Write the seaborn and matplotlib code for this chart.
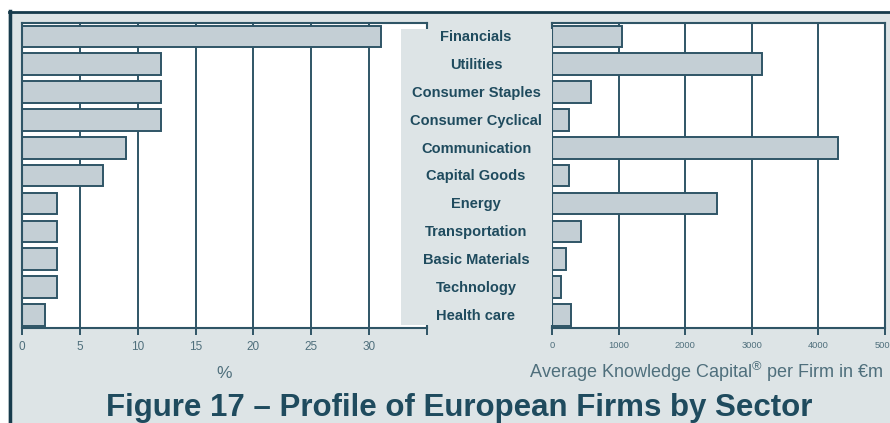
import matplotlib
matplotlib.use('Agg')
import matplotlib.pyplot as plt
import seaborn as sns
import pandas as pd
from matplotlib.patches import Rectangle
from matplotlib.lines import Line2D
from matplotlib.transforms import blended_transform_factory

# data
sectors = ['Financials', 'Utilities', 'Consumer Staples', 'Consumer Cyclical',
           'Communication', 'Capital Goods', 'Energy', 'Transportation',
           'Basic Materials', 'Technology', 'Health care']
share_pct = [31, 12, 12, 12, 9, 7, 3, 3, 3, 3, 2]
kc_per_firm = [1050, 3150, 580, 255, 4300, 255, 2480, 430, 205, 140, 290]

left_ticks = [0, 5, 10, 15, 20, 25, 30, 35]
left_ticklabels = ['0', '5', '10', '15', '20', '25', '30', '']
right_ticks = [0, 1000, 2000, 3000, 4000, 5000]

df = pd.DataFrame({'sector': sectors, 'share': share_pct, 'kc': kc_per_firm})

# colours
panel = '#dde4e6'
dark = '#2f5566'
bar_fill = '#c4cfd5'
text_col = '#1f4b5e'
tick_col = '#4f6f7c'

plt.rcParams['font.family'] = ['Liberation Sans', 'DejaVu Sans']
plt.rcParams['mathtext.fontset'] = 'custom'
plt.rcParams['mathtext.rm'] = 'Liberation Sans'

W, H = 890, 423
fig = plt.figure(figsize=(W / 100, H / 100), dpi=100)
fig.patch.set_facecolor('white')


def fig_box(x0, y0, x1, y1):
    # pixel box (top-left origin) -> figure fraction rect
    return [x0 / W, (H - y1) / H, (x1 - x0) / W, (y1 - y0) / H]


#grey panel behind everything
fig.add_artist(Rectangle((8 / W, 0), 1, (H - 12) / H, transform=fig.transFigure,
                         facecolor=panel, edgecolor='none', zorder=-2))

ax1 = fig.add_axes(fig_box(22, 23, 427, 328))
ax2 = fig.add_axes(fig_box(552, 23, 885, 328))

for ax, col, ticks in [(ax1, 'share', left_ticks), (ax2, 'kc', right_ticks)]:
    sns.barplot(data=df, x=col, y='sector', orient='h', ax=ax, color=bar_fill,
                edgecolor=dark, linewidth=1.4, width=0.77, saturation=1)
    ax.set_facecolor('white')
    ax.set_xlim(ticks[0], ticks[-1])
    ax.set_ylim(10.47, -0.48)
    ax.set_xticks(ticks)
    ax.set_yticks([])
    ax.set_xlabel('')
    ax.set_ylabel('')
    ax.set_axisbelow(True)
    ax.xaxis.grid(True, color=dark, linewidth=1.4)
    for s in ax.spines.values():
        s.set_color(dark)
        s.set_linewidth(1.5)
    ax.tick_params(axis='x', direction='out', length=5, width=1.4, color=dark,
                   labelcolor=tick_col, pad=4)

ax1.set_xticklabels(left_ticklabels)
ax1.tick_params(axis='x', labelsize=8.5)
ax2.tick_params(axis='x', labelsize=6.7)

#grey label box over the right part of the left axes
fig.add_artist(Rectangle((401 / W, (H - 325) / H), (552 - 401) / W, (325 - 29) / H,
                         transform=fig.transFigure, facecolor=panel,
                         edgecolor='none', zorder=5))

#sector names centred in the box, aligned with the bars
trans = blended_transform_factory(fig.transFigure, ax2.transData)
for i, name in enumerate(sectors):
    fig.text(476 / W, i + 0.17, name, transform=trans, ha='center', va='baseline',
             fontsize=10.5, fontweight='bold', color=text_col, zorder=6)

#axis labels and title
fig.text(224 / W, (H - 378) / H, '%', ha='center', va='baseline',
         fontsize=12.5, color=tick_col)
fig.text(706 / W, (H - 378) / H, 'Average Knowledge Capital$^{\\mathrm{®}}$ per Firm in €m',
         ha='center', va='baseline', fontsize=13, color=tick_col)
fig.text(459 / W, (H - 416) / H, 'Figure 17 – Profile of European Firms by Sector',
         ha='center', va='baseline', fontsize=22.5, fontweight='bold', color=text_col)

#dark frame lines on top and left
fig.add_artist(Line2D([8.5 / W, 1], [(H - 12) / H, (H - 12) / H],
                      transform=fig.transFigure, color='#173b4c', linewidth=2, zorder=10))
fig.add_artist(Line2D([9.7 / W, 9.7 / W], [0, (H - 11) / H],
                      transform=fig.transFigure, color='#173b4c', linewidth=2.5, zorder=10))

#saving the graph
plt.savefig('out.png', dpi=100)
